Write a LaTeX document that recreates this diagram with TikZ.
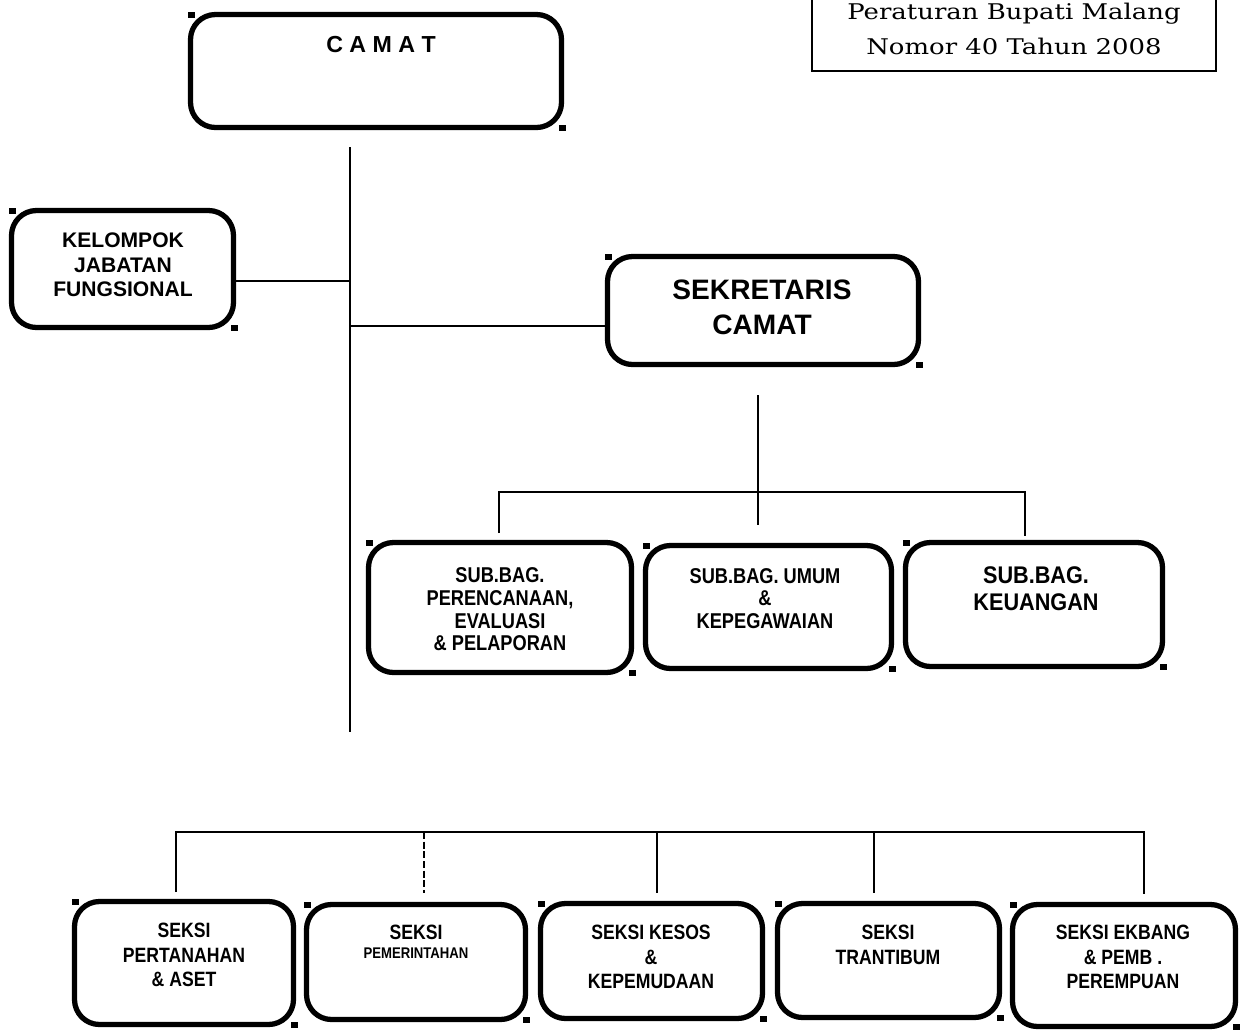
\documentclass[tikz,border=0pt]{standalone}
\usepackage{fontspec}
\setmainfont{Liberation Sans}
\newfontfamily\narr{Liberation Sans}
\newfontfamily\cond{Liberation Sans}[FakeStretch=0.85]
\newfontfamily\condb{Liberation Sans}[FakeStretch=0.9]
\newfontfamily\serf{DejaVu Serif}[FakeStretch=1.2]
\usetikzlibrary{fit}
\tikzset{
  orgbox/.style={draw, line width=3pt, rounded corners=0.5cm, inner sep=0pt, outer sep=0pt},
  lbl/.style={align=center, anchor=north, inner sep=0pt, font=\cond\bfseries\fontsize{12.2}{13}\selectfont},
  slbl/.style={lbl, font=\cond\bfseries\fontsize{11.8}{13.9}\selectfont},
  conn/.style={line width=1pt},
}
\newcommand\hdl[1]{%
  \fill ([shift={(-3,-3)}]#1.north west) rectangle ++(7,6);
  \fill ([shift={(-3,-3)}]#1.south east) rectangle ++(7,6);}
\begin{document}
\begin{tikzpicture}[x=0.02cm,y=-0.02cm]
\useasboundingbox (0,0) rectangle (1241,1032);
% regulation box
\node[draw, line width=1.1pt, inner sep=0pt, fit={(812,-10) (1216,71)}] (reg) {};
\node[inner sep=0pt, align=center, anchor=north, font=\serf\fontsize{12.3}{19.8}\selectfont] (regt) at (1014,3) {Peraturan Bupati Malang\\Nomor 40 Tahun 2008};
% CAMAT
\node[orgbox, fit={(190.5,14.5) (561.5,127.5)}] (camat) {};
\node[lbl, font=\narr\bfseries\fontsize{13.2}{16}\selectfont] (camatt) at (381,36) {C A M A T};
\hdl{camat}
% Kelompok
\node[orgbox, fit={(11.5,210.5) (233.5,327.5)}] (kel) {};
\node[lbl, font=\narr\bfseries\fontsize{12}{14.2}\selectfont] (kelt) at (123,232) {KELOMPOK\\JABATAN\\FUNGSIONAL};
\hdl{kel}
% Sekretaris
\node[orgbox, fit={(607.5,256.5) (918.5,364.5)}] (sek) {};
\node[lbl, font=\narr\bfseries\fontsize{16}{19.5}\selectfont] (sekt) at (762,280) {SEKRETARIS\\CAMAT};
\hdl{sek}
% Sub bag
\node[orgbox, fit={(368.5,542.5) (631.5,672.5)}] (sub1) {};
\node[lbl] (sub1t) at (500,567) {SUB.BAG.\\PERENCANAAN,\\EVALUASI\\\& PELAPORAN};
\hdl{sub1}
\node[orgbox, fit={(645.5,545.5) (891.5,668.5)}] (sub2) {};
\node[lbl, font=\cond\bfseries\fontsize{12.2}{12.8}\selectfont] (sub2t) at (765,568) {SUB.BAG. UMUM\\\&\\KEPEGAWAIAN};
\hdl{sub2}
\node[orgbox, fit={(905.5,542.5) (1162.5,666.5)}] (sub3) {};
\node[lbl, font=\condb\bfseries\fontsize{13.7}{15.3}\selectfont] (sub3t) at (1036,566) {SUB.BAG.\\KEUANGAN};
\hdl{sub3}
% Seksi
\node[orgbox, fit={(74.5,901.5) (293.5,1024.5)}] (b1) {};
\node[slbl] (b1t) at (184,923) {SEKSI\\PERTANAHAN\\\& ASET};
\hdl{b1}
\node[orgbox, fit={(306.5,904.5) (525.5,1019.5)}] (b2) {};
\node[slbl] (b2t) at (416,925) {SEKSI\\[-3pt]{\fontsize{8.8}{10}\selectfont PEMERINTAHAN}};
\hdl{b2}
\node[orgbox, fit={(540.5,903.5) (762.5,1018.5)}] (b3) {};
\node[slbl] (b3t) at (651,925) {SEKSI KESOS\\\&\\KEPEMUDAAN};
\hdl{b3}
\node[orgbox, fit={(777.5,903.5) (999.5,1017.5)}] (b4) {};
\node[slbl] (b4t) at (888,925) {SEKSI\\TRANTIBUM};
\hdl{b4}
\node[orgbox, fit={(1012.5,904.5) (1235.5,1026.5)}] (b5) {};
\node[slbl] (b5t) at (1123,925) {SEKSI EKBANG\\\& PEMB .\\PEREMPUAN};
\hdl{b5}
% connectors
\coordinate (ttop) at (350,147);
\coordinate (tbot) at (350,732);
\draw[conn] (ttop) -- (tbot);
\coordinate (kj) at (350,281);
\draw[conn] (kel.east |- kj) -- (kj);
\coordinate (sj) at (350,326);
\draw[conn] (sj) -- (sek.west |- sj);
\coordinate (sv1) at (758,395);
\coordinate (sv2) at (758,525);
\draw[conn] (sv1) -- (sv2);
\coordinate (sh1) at (499,492);
\coordinate (sh2) at (1025,492);
\coordinate (sd1) at (499,533);
\coordinate (sd3) at (1025,536);
\draw[conn] (sd1) -- (sh1) -- (sh2) -- (sd3);
\coordinate (bh1) at (176,832);
\coordinate (bh5) at (1144,832);
\coordinate (bd1) at (176,892);
\coordinate (bd5) at (1144,894);
\draw[conn] (bd1) -- (bh1) -- (bh5) -- (bd5);
\coordinate (bh2) at (424,832);
\coordinate (bd2) at (424,893);
\draw[conn, dash pattern=on 4pt off 1.5pt] (bh2) -- (bd2);
\coordinate (bh3) at (657,832);
\coordinate (bd3) at (657,893);
\draw[conn] (bh3) -- (bd3);
\coordinate (bh4) at (874,832);
\coordinate (bd4) at (874,893);
\draw[conn] (bh4) -- (bd4);
\end{tikzpicture}
\end{document}
